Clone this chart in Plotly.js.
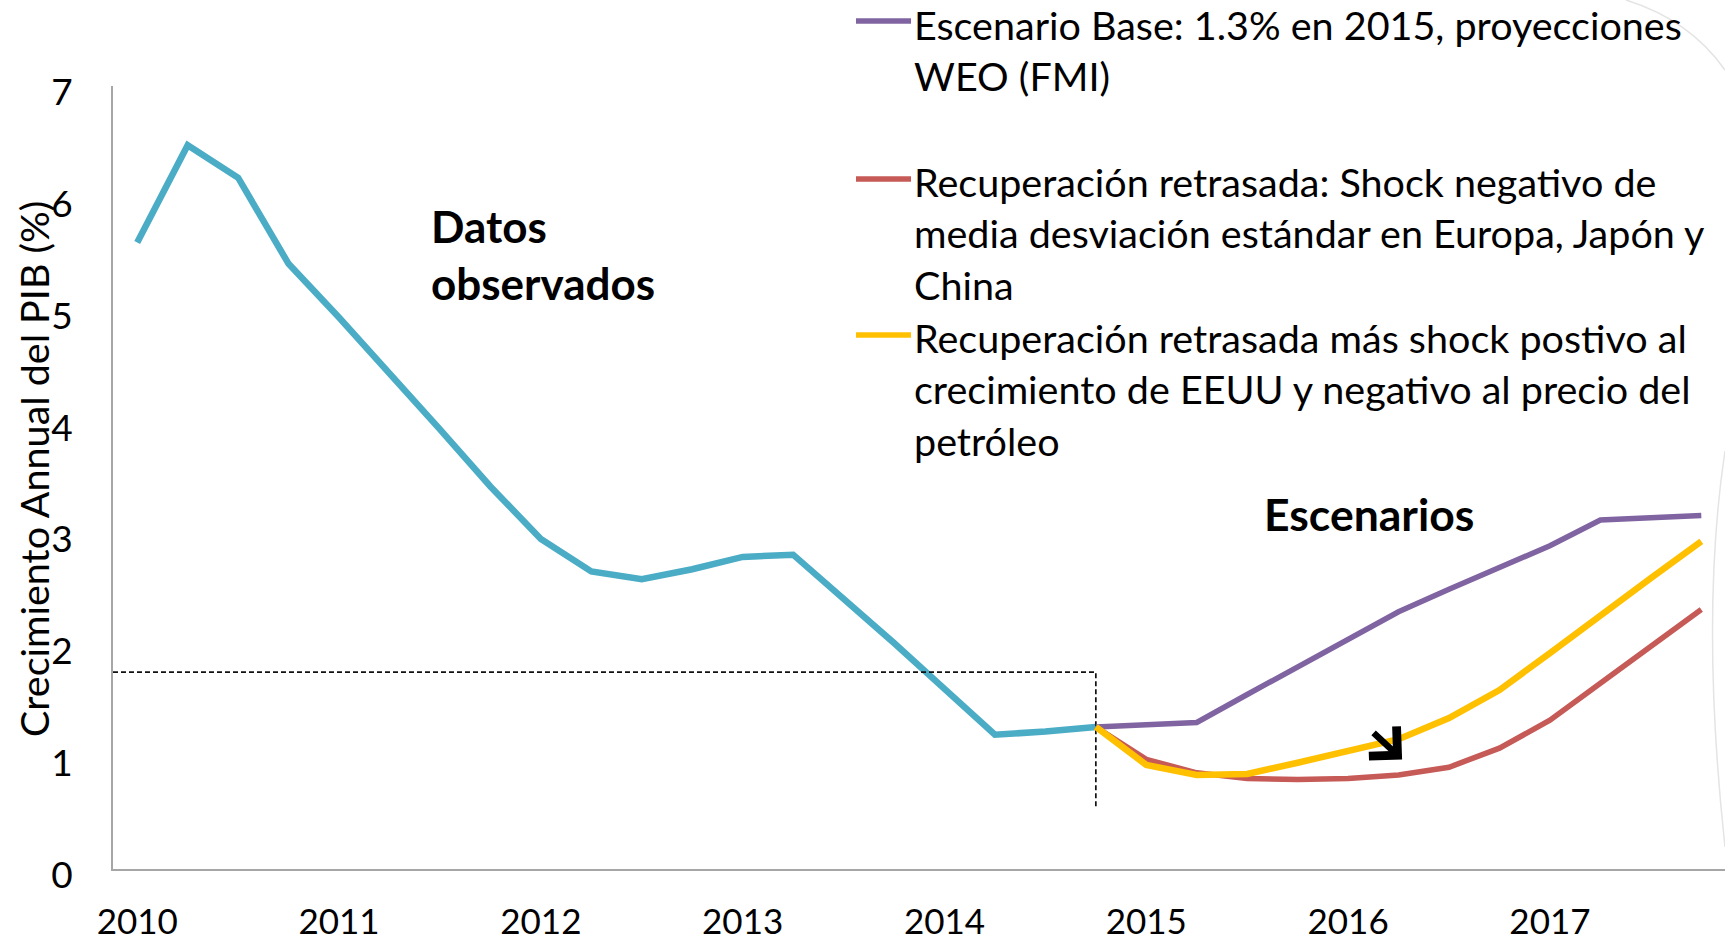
<!DOCTYPE html>
<html><head><meta charset="utf-8">
<script src="https://cdn.plot.ly/plotly-3.0.1.min.js"></script>
<style>html,body{margin:0;padding:0;background:#fff;overflow:hidden}#chart{width:1725px;height:943px}</style>
</head><body><div id="chart"></div>
<script>
// ---- data ----
const years = ['2010','2011','2012','2013','2014','2015','2016','2017'];
const quarterSuffixes = ['T1','T2','T3','T4'];
const quarters = [];
years.forEach(y => quarterSuffixes.forEach(q => quarters.push(y + '-' + q)));

const observedStart = '2010-T1';
const observedValues = [5.60, 6.47, 6.18, 5.41, 4.93, 4.44, 3.93, 3.42, 2.95, 2.66, 2.59, 2.68,
                        2.79, 2.81, 2.42, 2.02, 1.61, 1.20, 1.23, 1.27];
const scenarioStart = '2014-T4';
const baseValues     = [1.27, 1.29, 1.31, 1.56, 1.81, 2.05, 2.30, 2.50, 2.69, 2.89, 3.12, 3.14, 3.16];
const delayedValues  = [1.27, 0.98, 0.86, 0.81, 0.80, 0.81, 0.84, 0.91, 1.08, 1.33, 1.66, 1.99, 2.32];
const delayedOilValues = [1.27, 0.93, 0.84, 0.85, 0.95, 1.05, 1.16, 1.35, 1.60, 1.93, 2.27, 2.60, 2.93];

const seriesNames = [
  'Escenario Base: 1.3% en 2015, proyecciones WEO (FMI)',
  'Recuperación retrasada: Shock negativo de media desviación estándar en Europa, Japón y China',
  'Recuperación retrasada más shock postivo al crecimiento de EEUU y negativo al precio del petróleo'
];
const legendLines = [
  ['Escenario Base: 1.3% en 2015, proyecciones', 'WEO (FMI)'],
  ['Recuperación retrasada: Shock negativo de', 'media desviación estándar en Europa, Japón y', 'China'],
  ['Recuperación retrasada más shock postivo al', 'crecimiento de EEUU y negativo al precio del', 'petróleo']
];
const yTitle = 'Crecimiento Annual del PIB (%)';
const labelObserved = 'Datos<br>observados';
const labelScenarios = 'Escenarios';
const yTicks = [0, 1, 2, 3, 4, 5, 6, 7];
const refLevel = 1.76;       // dashed horizontal reference
const refDropBottom = 0.55;  // bottom of dashed vertical
const refQuarter = '2014-T4';
const arrowQuarterPos = 25.07, arrowValue = 0.98;

// ---- styling ----
const colors = {obs:'#4BACC6', base:'#8064A2', delayed:'#C65A56', oil:'#FFC000'};
const FONT = 'Lato, "Open Sans", sans-serif';
const W = 1725, H = 943, L = 113, R = 0, T = 86, B = 74;
const PW = W - L - R, PH = H - T - B;
const px = v => (v - L) / PW;          // pixel -> paper x
const py = v => (H - B - v) / PH;      // pixel -> paper y
const xRange = [-0.48, 31.47];

const xs = (start, n) => { const s = quarters.indexOf(start); return Array.from({length:n}, (_, i) => s + i); };

const traces = [
  {x: xs(observedStart, observedValues.length), y: observedValues, mode:'lines', name:'Datos observados',
   line:{color:colors.obs, width:6.5}, showlegend:false, hoverinfo:'skip'},
  {x: [xRange[0], quarters.indexOf(refQuarter), quarters.indexOf(refQuarter)], y:[refLevel, refLevel, refDropBottom],
   mode:'lines', line:{color:'#111', width:1.7, dash:'5px,3px'}, showlegend:false, hoverinfo:'skip'},
  {x: xs(scenarioStart, baseValues.length), y: baseValues, mode:'lines', name: seriesNames[0],
   line:{color:colors.base, width:5.5}, showlegend:false},
  {x: xs(scenarioStart, delayedValues.length), y: delayedValues, mode:'lines', name: seriesNames[1],
   line:{color:colors.delayed, width:5.5}, showlegend:false},
  {x: xs(scenarioStart, delayedOilValues.length), y: delayedOilValues, mode:'lines', name: seriesNames[2],
   line:{color:colors.oil, width:6.5}, showlegend:false}
];

// custom legend (line sample + wrapped text)
const legendColors = [colors.base, colors.delayed, colors.oil];
const legendFirstLine = [24, 182, 338];
const LEG_FS = 39.5, LEG_LH = 51.35;
const shapes = [], annotations = [];
legendLines.forEach((lines, i) => {
  const top = legendFirstLine[i];
  shapes.push({type:'line', xref:'paper', yref:'paper', x0:px(856), x1:px(911), y0:py(top-3), y1:py(top-3),
               line:{color:legendColors[i], width:5.5}});
  annotations.push({xref:'paper', yref:'paper', x:px(912), y:py(top + (lines.length-1)*LEG_LH/2),
    xanchor:'left', yanchor:'middle', align:'left', showarrow:false, text: lines.join('<br>'),
    font:{family:FONT, size:LEG_FS, color:'#000'}});
});

annotations.push({xref:'paper', yref:'paper', x:px(33), y:py(469), textangle:-90, showarrow:false,
  text:yTitle, xanchor:'center', yanchor:'middle', font:{family:FONT, size:39.5, color:'#000'}});
annotations.push({xref:'paper', yref:'paper', x:px(429), y:py(254), xanchor:'left', yanchor:'middle', align:'left',
  showarrow:false, text:'<b>'+labelObserved+'</b>', font:{family:FONT, size:44, color:'#000'}});
annotations.push({xref:'paper', yref:'paper', x:px(1369), y:py(513), xanchor:'center', yanchor:'middle',
  showarrow:false, text:'<b>'+labelScenarios+'</b>', font:{family:FONT, size:44.5, color:'#000'}});
annotations.push({x:arrowQuarterPos, y:arrowValue, xref:'x', yref:'y', text:'', showarrow:true,
  ax:-30, ay:-28, arrowhead:4, arrowsize:1.2, arrowwidth:6.5, arrowcolor:'#000', standoff:0});

// faint decorative arcs at right edge
shapes.push({type:'path', xref:'paper', yref:'paper', line:{color:'#e4e4e4', width:1.5},
  path:`M ${px(1626)} ${py(0)} Q ${px(1690)} ${py(20)} ${px(1725)} ${py(70)}`});
shapes.push({type:'path', xref:'paper', yref:'paper', line:{color:'#e4e4e4', width:1.5},
  path:`M ${px(1725)} ${py(451)} Q ${px(1700)} ${py(616)} ${px(1725)} ${py(847)}`});

const axisCommon = {showline:true, linecolor:'#a6a6a6', linewidth:2, ticks:'', showgrid:false, zeroline:false, fixedrange:true};
const layout = {
  width:W, height:H, margin:{l:L, r:R, t:T, b:B, pad:0},
  paper_bgcolor:'#fff', plot_bgcolor:'#fff', showlegend:false,
  font:{family:FONT, color:'#000'},
  xaxis: Object.assign({}, axisCommon, {range:xRange, tickmode:'array',
    tickvals: years.map(y => quarters.indexOf(y + '-T1')), ticktext: years,
    tickfont:{family:FONT, size:35, color:'#000'}, ticklabelstandoff:21}),
  yaxis: Object.assign({}, axisCommon, {range:[0,7], tickmode:'array', tickvals:yTicks,
    tickfont:{family:FONT, size:37, color:'#000'}, ticklabelstandoff:31, ticklabelshift:6}),
  shapes, annotations
};
Plotly.newPlot('chart', traces, layout, {displayModeBar:false, staticPlot:true});
</script></body></html>
